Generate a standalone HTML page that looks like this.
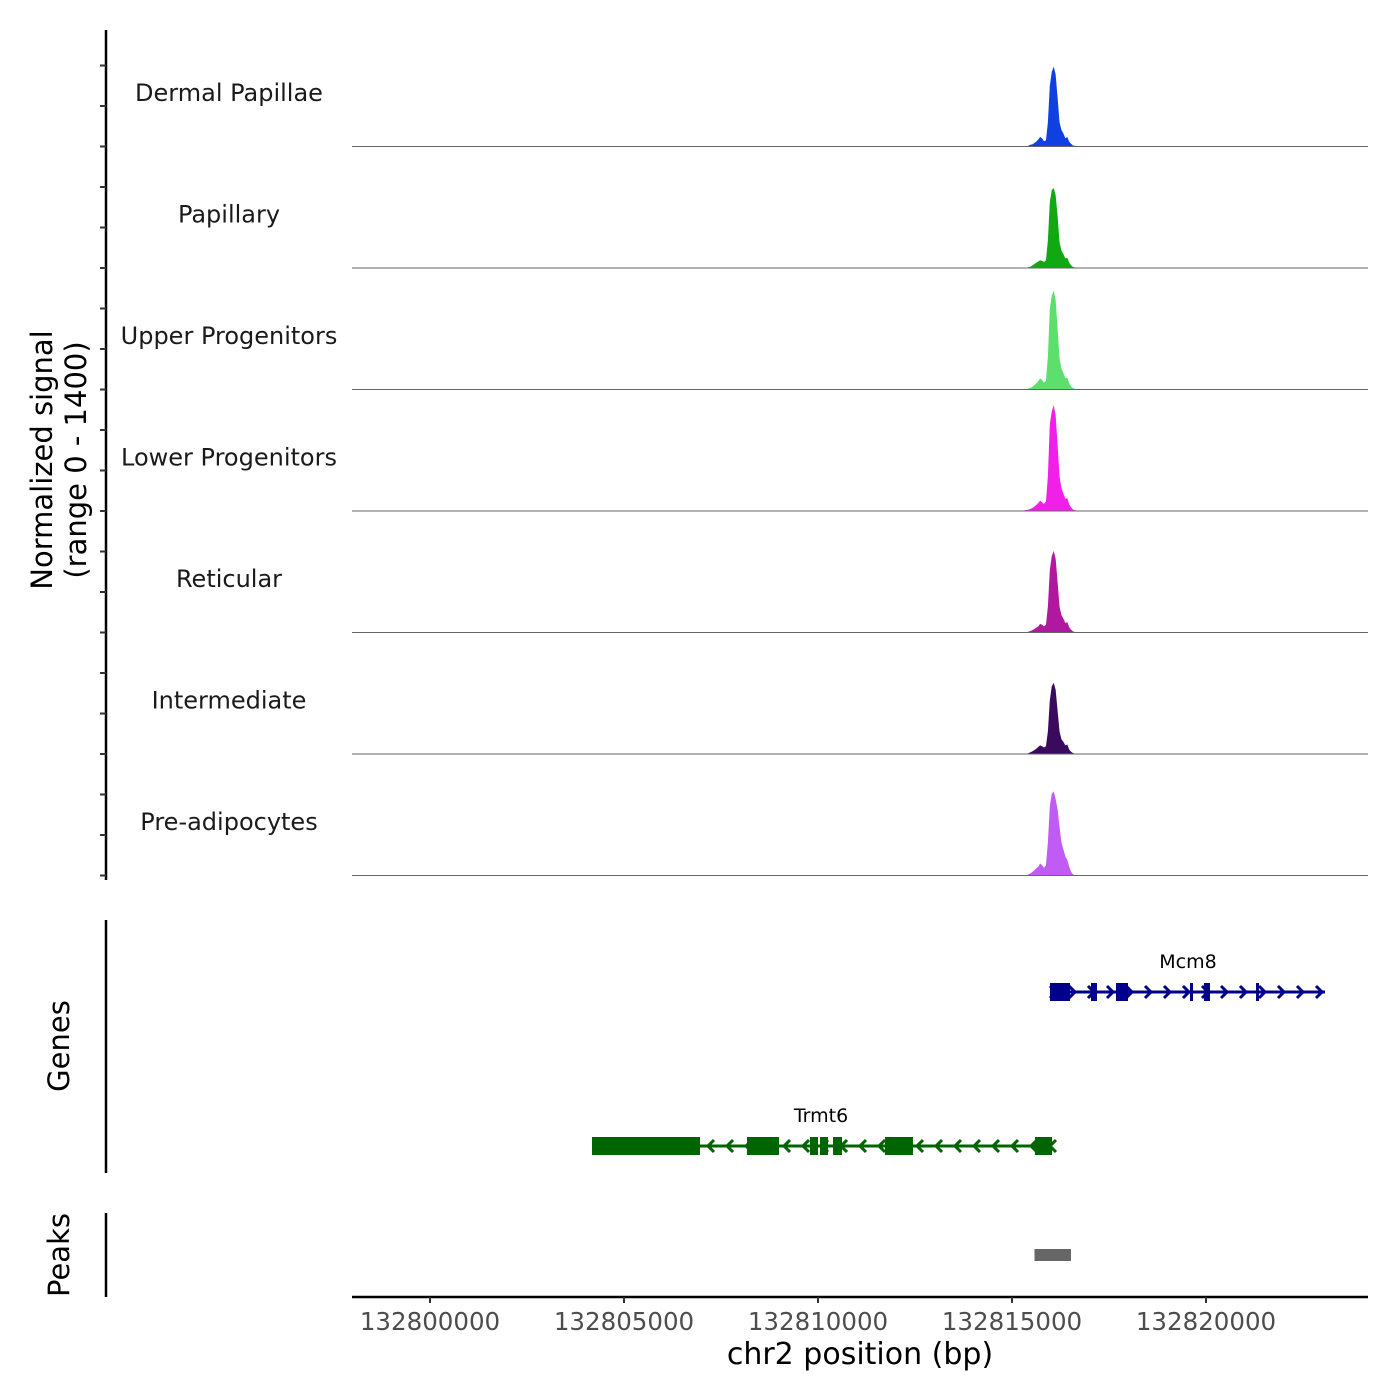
<!DOCTYPE html>
<html><head><meta charset="utf-8"><style>
html,body{margin:0;padding:0;background:#fff;}
svg{display:block;font-family:"DejaVu Sans","Liberation Sans",sans-serif;}
</style></head><body>
<svg id="chart" width="1400" height="1400" viewBox="0 0 1400 1400"></svg>
<script>
const trackNames = ["Dermal Papillae","Papillary","Upper Progenitors","Lower Progenitors","Reticular","Intermediate","Pre-adipocytes"];
const trackColors = ["#1040e0","#12a812","#5ddf6e","#f020e8","#b0189f","#3a0a5e","#c05cf5"];
const binStart = 132815300;
const binSize = 50;
const sigDermal = [0,0,10,20,25,40,55,80,110,95,60,70,280,700,860,920,830,560,280,190,150,95,110,55,30,10,8,0,0];
const sigPapillary = [0,0,10,15,30,45,60,75,90,80,70,90,320,760,900,920,840,600,300,200,160,110,120,60,30,12,6,0,0];
const sigUpper = [0,0,12,20,30,50,70,95,130,110,80,100,380,930,1080,1140,1030,700,360,240,190,130,140,70,35,14,8,0,0];
const sigLower = [10,12,15,25,35,50,70,90,120,100,80,110,400,1000,1150,1220,1100,760,400,260,200,140,150,75,40,15,8,5,0];
const sigReticular = [0,0,10,18,28,40,55,70,100,90,70,90,300,720,880,940,850,580,300,200,160,110,120,60,30,12,6,0,0];
const sigIntermediate = [0,0,10,20,30,45,60,80,100,90,75,90,260,620,780,820,740,500,260,170,140,100,110,50,25,10,5,0,0];
const sigPreadipocytes = [0,0,15,25,40,60,80,100,140,120,90,120,380,800,940,970,880,760,560,380,300,220,180,100,40,12,6,0,0];
const signals = [sigDermal,sigPapillary,sigUpper,sigLower,sigReticular,sigIntermediate,sigPreadipocytes];
const xTicks = [132800000,132805000,132810000,132815000,132820000];
const trmt6Span = [132804175,132816031];
const trmt6ExonStarts = [132804175,132808170,132809794,132810052,132810387,132811727,132815593];
const trmt6ExonEnds = [132806959,132808995,132810000,132810258,132810619,132812448,132816031];
const mcm8Span = [132815979,132823067];
const mcm8ExonStarts = [132815979,132817036,132817680,132819588,132819948,132821289];
const mcm8ExonEnds = [132816495,132817190,132817990,132819639,132820103,132821366];
const peakStarts = [132815580];
const peakEnds = [132816520];

const NS="http://www.w3.org/2000/svg";
const svg=document.getElementById('chart');
function el(tag,attrs,parent){const e=document.createElementNS(NS,tag);for(const k in attrs)e.setAttribute(k,attrs[k]);(parent||svg).appendChild(e);return e;}
const X0=352,X1=1368;
function xs(bp){return 430+(bp-132800000)*0.0388;}
const trackTop=25,trackH=121.5,yMax=1400;
function ys(i,v){return trackTop+(i+1)*trackH - v/yMax*trackH;}

let ax=el('line',{x1:106,y1:30,x2:106,y2:880,stroke:'#000','stroke-width':2.5});

for(let i=0;i<7;i++){for(let k=0;k<3;k++){const y=trackTop+(i+1)*trackH-k*40.5;
 const t=el('line',{x1:100,y1:y,x2:106,y2:y,stroke:'#333','stroke-width':2});
 }}
const yt=el('text',{transform:'translate(52,460) rotate(-90)','text-anchor':'middle','font-size':29,fill:'#000'});

el('tspan',{x:0,dy:0},yt).textContent='Normalized signal';
el('tspan',{x:0,dy:34},yt).textContent='(range 0 - 1400)';

for(let i=0;i<7;i++){
 const g=el('g',{});
 const lb=el('text',{x:229,y:ys(i,0)-121.5/2+15,'text-anchor':'middle','font-size':24,fill:'#1a1a1a'},g);lb.textContent=trackNames[i];
 
 const base=ys(i,0);
 let d='M'+xs(binStart)+','+base;
 signals[i].forEach((v,j)=>{const x=xs(binStart+j*binSize+binSize/2);d+=' L'+x+','+ys(i,v);});
 d+=' L'+xs(binStart+signals[i].length*binSize)+','+base+' Z';
 const p=el('path',{d:d,fill:trackColors[i]},g);
 const bl=el('line',{x1:X0,y1:base,x2:X1,y2:base,stroke:'#666','stroke-width':1},g);
 
}

const ga=el('line',{x1:106,y1:920,x2:106,y2:1173,stroke:'#000','stroke-width':2.5});

const gt=el('text',{transform:'translate(69,1046) rotate(-90)','text-anchor':'middle','font-size':29});gt.textContent='Genes';

function drawGene(name,span,starts,ends,y,color,dir,labelX){
 const g=el('g',{});
 el('line',{x1:xs(span[0]),y1:y,x2:xs(span[1]),y2:y,stroke:color,'stroke-width':3},g);
 for(let x=xs(span[0])+4;x<xs(span[1]);x+=19){
  const a=dir>0?`M${x-4},${y-6} L${x+2},${y} L${x-4},${y+6}`:`M${x+4},${y-6} L${x-2},${y} L${x+4},${y+6}`;
  el('path',{d:a,stroke:color,'stroke-width':3,fill:'none'},g);}
 starts.forEach((s,j)=>{const r=el('rect',{x:xs(s),y:y-9,width:Math.max(3,xs(ends[j])-xs(s)),height:18,fill:color},g);
  });
 const t=el('text',{x:labelX,y:y-24,'text-anchor':'middle','font-size':19,fill:'#000'},g);t.textContent=name;
 
}
drawGene('Mcm8',mcm8Span,mcm8ExonStarts,mcm8ExonEnds,992,'#00008b',1,1188);
drawGene('Trmt6',trmt6Span,trmt6ExonStarts,trmt6ExonEnds,1146,'#006400',-1,821);

const pa=el('line',{x1:106,y1:1213,x2:106,y2:1297,stroke:'#000','stroke-width':2.5});

const pt=el('text',{transform:'translate(69,1255) rotate(-90)','text-anchor':'middle','font-size':29});pt.textContent='Peaks';

peakStarts.forEach((s,j)=>{const r=el('rect',{x:xs(s),y:1249,width:xs(peakEnds[j])-xs(s),height:12,fill:'#666'});
 });

const xa=el('line',{x1:X0,y1:1297,x2:X1,y2:1297,stroke:'#000','stroke-width':2.5});

xTicks.forEach(v=>{const t=el('line',{x1:xs(v),y1:1297,x2:xs(v),y2:1303,stroke:'#333','stroke-width':2});
 
 const l=el('text',{x:xs(v),y:1330,'text-anchor':'middle','font-size':24.5,fill:'#4d4d4d'});l.textContent=String(v);
 });
const xt=el('text',{x:860,y:1364,'text-anchor':'middle','font-size':30});xt.textContent='chr2 position (bp)';

</script>
</body></html>
